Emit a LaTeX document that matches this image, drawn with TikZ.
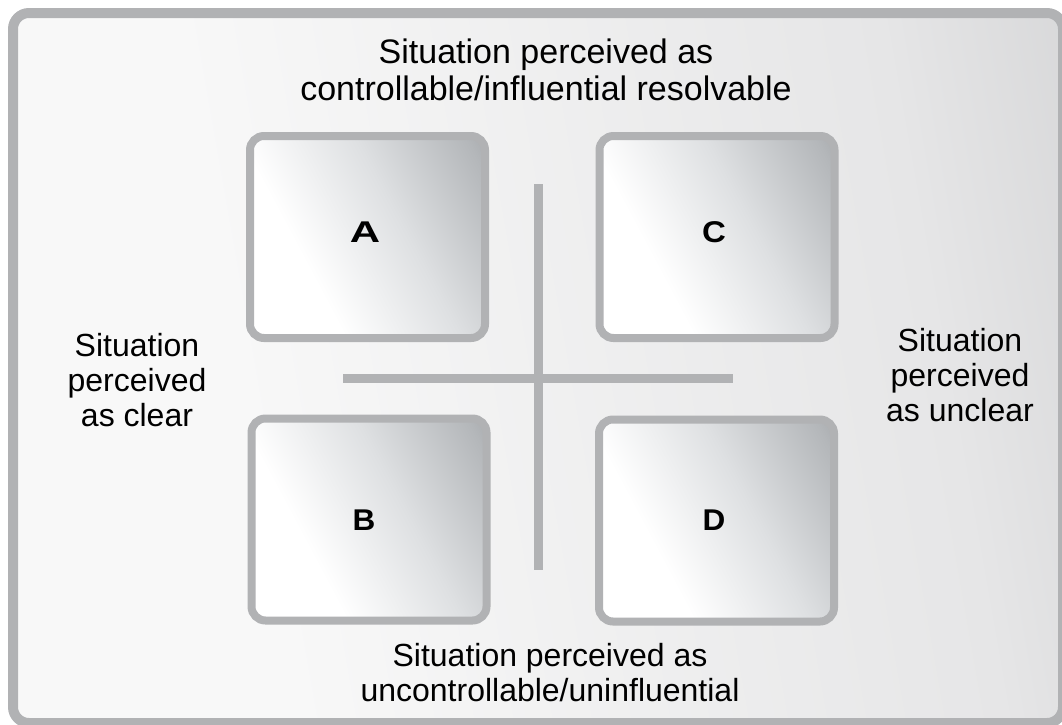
\documentclass[tikz,border=0pt]{standalone}
\usepackage{fontspec}
\setmainfont{Liberation Sans}
\definecolor{edgegray}{RGB}{177,178,180}
\definecolor{framelight}{RGB}{248,248,248}
\definecolor{framemid}{RGB}{230,230,231}
\definecolor{framedark}{RGB}{186,187,189}
\definecolor{boxlight}{RGB}{255,255,255}
\definecolor{boxmid}{RGB}{222,224,226}
\definecolor{boxdeep}{RGB}{180,183,186}
\definecolor{boxdark}{RGB}{125,128,132}
\pgfdeclarehorizontalshading{frameshade}{100bp}{color(0bp)=(framelight); color(35bp)=(framelight); color(70bp)=(framemid); color(100bp)=(framedark)}
\pgfdeclarehorizontalshading{boxshade}{100bp}{color(0bp)=(boxlight); color(35bp)=(boxlight); color(58bp)=(boxmid); color(80bp)=(boxdeep); color(100bp)=(boxdark)}
\begin{document}
\begin{tikzpicture}[x=1pt,y=-1pt,
  framebox/.style={draw=edgegray, line width=10pt, rounded corners=16pt, shading=frameshade, shading angle=10},
  quad/.style={draw=edgegray, line width=8pt, rounded corners=14pt, shading=boxshade, shading angle=28,
    minimum width=235pt, minimum height=202pt, inner sep=0pt},
  letter/.style={font=\fontsize{30}{30}\selectfont\bfseries, inner sep=0pt},
  sidetext/.style={font=\fontsize{32}{35}\selectfont, align=center, text=black, inner sep=0pt},
  axisline/.style={draw=edgegray, line width=9pt}]
\useasboundingbox (0,0) rectangle (1062,724);
\clip (0,0) rectangle (1062,724);
\draw[framebox] (13,13) rectangle (1063,723);
\node[quad] (A) at (367.5,237) {};
\node[quad] (C) at (717,237) {};
\node[quad] (B) at (369,519.5) {};
\node[quad] (D) at (716.5,520.5) {};
\node[letter, xscale=1.4] (Al) at (365,232) {A};
\node[letter, xscale=1.1] (Cl) at (714,232) {C};
\node[letter, xscale=1.05] (Bl) at (364,520) {B};
\node[letter, xscale=1.05] (Dl) at (714,520) {D};
\coordinate (vtop) at (538,184);
\coordinate (vbot) at (538,570);
\coordinate (hleft) at (343,378);
\coordinate (hright) at (733,378);
\draw[axisline] (vtop) -- (vbot);
\draw[axisline] (hleft) -- (hright);
\node[sidetext, font=\fontsize{34}{37}\selectfont] (top) at (546,70) {Situation perceived as\\controllable/influential resolvable};
\node[sidetext] (left) at (137,380) {Situation\\perceived\\as clear};
\node[sidetext] (right) at (960,375) {Situation\\perceived\\as unclear};
\node[sidetext] (bottom) at (550,673) {Situation perceived as\\uncontrollable/uninfluential};
\end{tikzpicture}
\end{document}
